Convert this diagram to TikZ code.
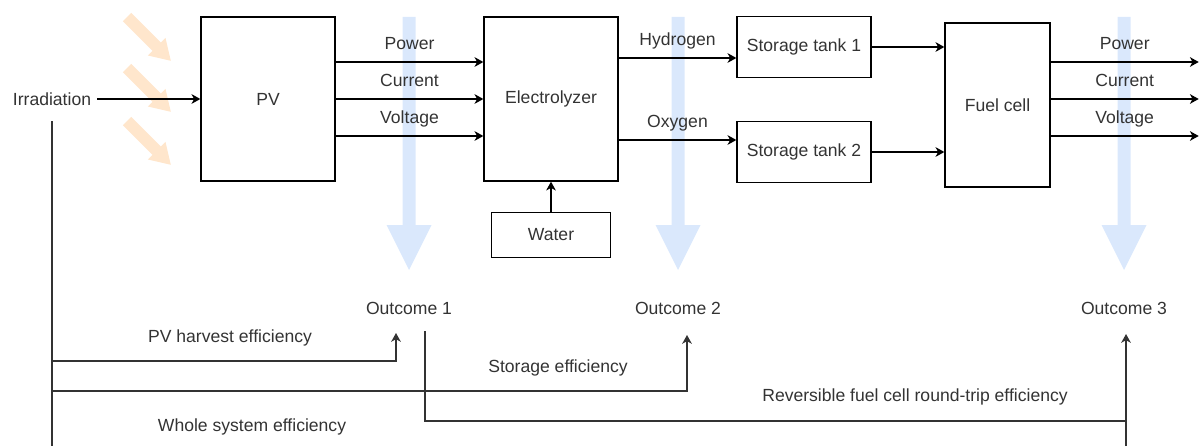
\documentclass[tikz,border=0pt]{standalone}
\usepackage{fontspec}
\setmainfont{Liberation Sans}
\usetikzlibrary{positioning,arrows.meta,calc}

\definecolor{sunray}{RGB}{255,230,204}
\definecolor{flowblue}{RGB}{218,232,252}
\definecolor{inkgray}{RGB}{51,51,51}

\begin{document}
\begin{tikzpicture}[
  x=0.02cm, y=-0.02cm,
  >={Stealth[length=5pt,width=5.5pt,inset=1.5pt]},
  font=\fontsize{10}{12}\selectfont,
  text=inkgray,
  block/.style={draw, line width=0.8pt, minimum width=2.68cm, minimum height=3.28cm, inner sep=0pt},
  tank/.style={block, minimum height=1.22cm},
  flow/.style={draw, line width=0.8pt, ->},
  link/.style={draw=inkgray, line width=0.8pt},
  tag/.style={above=2.6pt, text height=7.5pt, text depth=2pt, inner sep=2pt}
]
  \useasboundingbox (0,0) rectangle (1202,446);

  % sunlight and outcome arrows
  \foreach \y in {17,68,121}
    \fill[sunray, shift={(127,\y)}] (-4.2,4.2) -- (25.5,33.9) -- (20.9,38.5) -- (43.8,43.8)
      -- (38.5,20.9) -- (33.9,25.5) -- (4.2,-4.2) -- cycle;
  \foreach \x in {409,678,1124}
    \fill[flowblue] (\x-6.5,17) -- (\x+6.5,17) -- (\x+6.5,225) -- (\x+22.5,225)
      -- (\x,270) -- (\x-22.5,225) -- (\x-6.5,225) -- cycle;

  \node (irr) at (52,99) {Irradiation};
  \node[block] (pv) at (268,99) {PV};
  \node[block] (elec) at (551,99) {Electrolyzer};
  \node[block, minimum width=2.38cm, minimum height=0.9cm, below=0.6cm of elec] (water) {Water};
  \node[tank] (tank1) at (804,47) {Storage tank 1};
  \node[tank] (tank2) at (804,152) {Storage tank 2};
  \node[block, minimum width=2.1cm] (fc) at (997.5,105) {Fuel cell};

  \node (out1) at (409,308) {Outcome 1};
  \node (out2) at (678,308) {Outcome 2};
  \node (out3) at (1124,308) {Outcome 3};

  \coordinate (h2) at ($(elec.east)+(0,-41)$);
  \coordinate (o2) at ($(elec.east)+(0,41)$);
  \foreach \n/\dy in {p/-37,c/0,v/37}
    \coordinate (fc\n) at ($(fc.east |- pv.east)+(148,\dy)$);

  \draw[flow] (irr) -- (pv);
  \draw[flow] ($(pv.east)+(0,-37)$) -- node[tag] {Power} ($(elec.west)+(0,-37)$);
  \draw[flow] (pv.east) -- node[tag] {Current} (elec.west);
  \draw[flow] ($(pv.east)+(0,37)$) -- node[tag] {Voltage} ($(elec.west)+(0,37)$);
  \draw[flow] (water) -- (elec);
  \draw[flow] (h2) -- node[tag] {Hydrogen} (h2 -| tank1.west);
  \draw[flow] (o2) -- node[tag] {Oxygen} (o2 -| tank2.west);
  \draw[flow] (tank1.east) -- (tank1.east -| fc.west);
  \draw[flow] (tank2.east) -- (tank2.east -| fc.west);
  \draw[flow] (fc.east |- fcp) -- node[tag] {Power} (fcp);
  \draw[flow] (fc.east |- fcc) -- node[tag] {Current} (fcc);
  \draw[flow] (fc.east |- fcv) -- node[tag] {Voltage} (fcv);

  % efficiency paths
  \coordinate (drop) at (52,121);
  \coordinate (floor) at (52,446);
  \coordinate (tap1) at (52,361);
  \coordinate (tap2) at (52,391);
  \coordinate (in1) at ($(out1)+(-13,25)$);
  \coordinate (in2) at ($(out2)+(9,27)$);
  \coordinate (in3) at ($(out3)+(2,26)$);
  \coordinate (from1) at ($(out1)+(16,23)$);
  \coordinate (turn) at (1126,421);
  \coordinate (floor3) at (1126,446);

  \draw[link] (drop) -- (floor);
  \draw[link,->] (tap1) -| (in1);
  \draw[link,->] (tap2) -| (in2);
  \draw[link] (from1) |- (turn);
  \draw[link,->] (floor3) -- (in3);

  \node (eff1) at (230,338) {PV harvest efficiency};
  \node (eff2) at (558,368) {Storage efficiency};
  \node (eff3) at (915,397) {Reversible fuel cell round-trip efficiency};
  \node (eff4) at (252,427) {Whole system efficiency};
\end{tikzpicture}
\end{document}
